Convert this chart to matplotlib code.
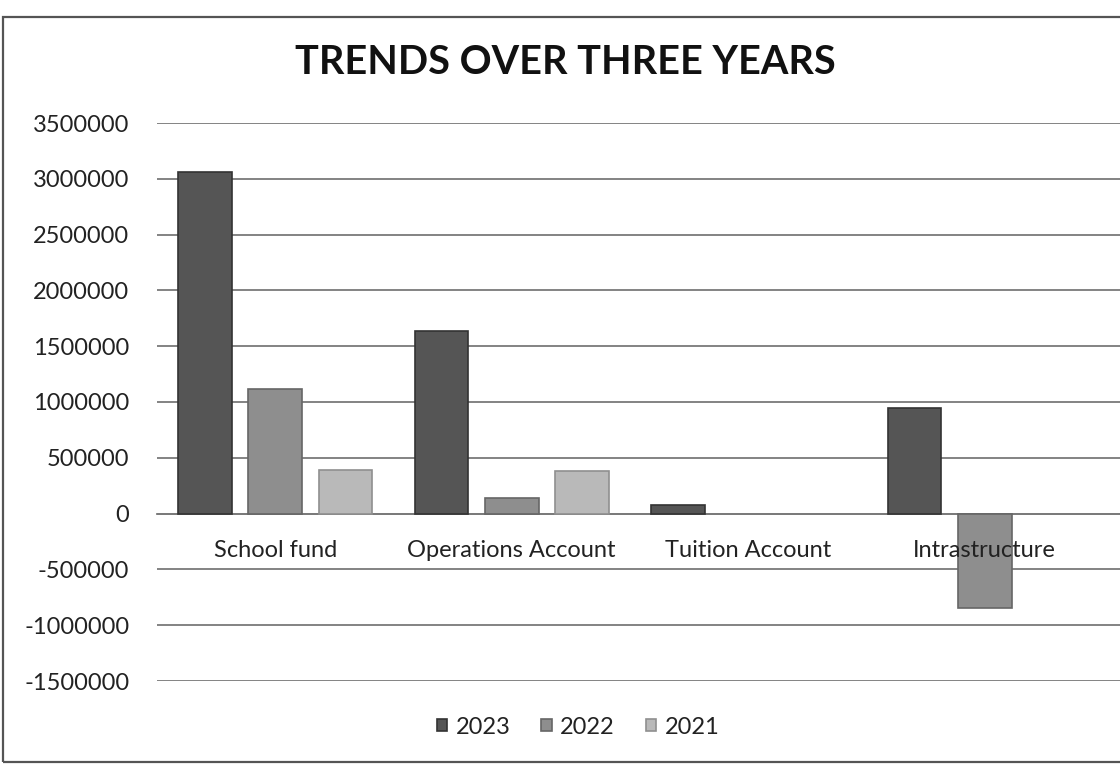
import matplotlib
matplotlib.use("Agg")
import matplotlib.pyplot as plt
import numpy as np
from matplotlib.patches import Rectangle
from matplotlib.transforms import offset_copy

categories = ["School fund", "Operations Account", "Tuition Account", "Intrastructure"]
years = ["2023", "2022", "2021"]
values_2023 = [3060000, 1640000, 80000, 950000]
values_2022 = [1120000, 140000, 0, -850000]
values_2021 = [390000, 385000, 0, 0]
yticks = list(range(-1500000, 3500001, 500000))

series = [values_2023, values_2022, values_2021]
colors = ["#555555", "#8e8e8e", "#b9b9b9"]
edges = ["#333333", "#666666", "#8f8f8f"]

plt.rcParams['font.family'] = ['Lato', 'DejaVu Sans']

fig = plt.figure(figsize=(11.2, 7.7), dpi=100)
ax = fig.add_axes([157/1120, 1-681/770, 1-157/1120, (681-123)/770])
ax.spines["bottom"].set_position(("data", 0))

x = np.arange(len(categories))
offsets = [-0.297, 0.0, 0.297]
width = 0.228
for s, off, c, e, lab in zip(series, offsets, colors, edges, years):
    lw = [1.2 if v != 0 else 0 for v in s]
    ax.bar(x + off, s, width, color=c, edgecolor=e, linewidth=lw, label=lab, zorder=3)

ax.set_ylim(-1500000, 3500000)
ax.set_xlim(-0.5, 3.572)
ax.set_yticks(yticks)
ax.set_yticklabels([str(v) for v in yticks], fontsize=17, color="#222222")
ax.yaxis.grid(True, color="#7a7a7a", linewidth=1.3, zorder=0)
ax.tick_params(axis='y', length=0, pad=20)
ax.set_xticks([])
for sp in ["left", "right", "top"]:
    ax.spines[sp].set_visible(False)
ax.spines["bottom"].set_color("#7a7a7a")
ax.spines["bottom"].set_linewidth(1.3)

lab_trans = offset_copy(ax.transData, fig=fig, x=0, y=-37, units="dots")
for xi, name in zip(x, categories):
    ax.text(xi, 0, name, transform=lab_trans, ha="center", va="center",
            fontsize=17, color="#222222", zorder=5)

fig.text(565/1120, 1-62/770, "TRENDS OVER THREE YEARS", ha="center", va="center",
         fontsize=28.5, fontweight="bold", color="#111111")

fig.legend(loc="center", bbox_to_anchor=(578/1120, 1-727/770), ncol=3, frameon=False,
           fontsize=17, handlelength=0.45, handleheight=0.45, handletextpad=0.35,
           columnspacing=1.3, labelcolor="#222222")

fig.patches.append(Rectangle((3/1120, 1-762/770), 1.2, (762-17)/770, transform=fig.transFigure,
                             fill=False, edgecolor="#555555", linewidth=1.6))

fig.savefig("out.png", dpi=100, facecolor="white")
